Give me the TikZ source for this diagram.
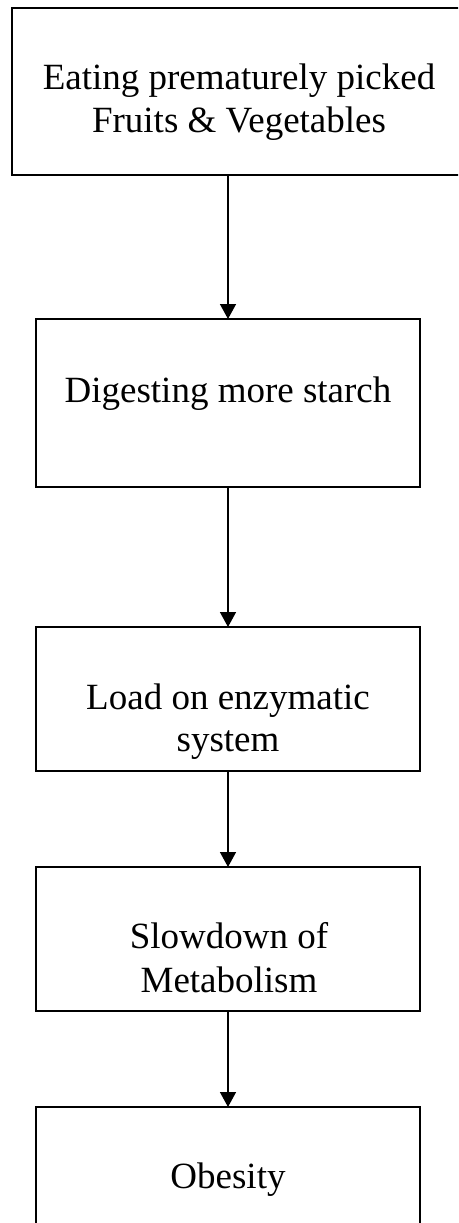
\documentclass[tikz,border=0pt]{standalone}
\usepackage{fontspec}
\setmainfont{Liberation Serif}
\usetikzlibrary{arrows.meta}
\tikzset{
  flowbox/.style={draw, line width=2pt, rectangle, inner sep=0pt, outer sep=0pt},
  flowtext/.style={anchor=base, inner sep=0pt, font=\fontsize{37}{43}\selectfont},
  flowarrow/.style={line width=1.5pt, -{Triangle[width=16pt,length=15pt]}}
}
\begin{document}
\begin{tikzpicture}[x=1pt, y=-1pt]
  \useasboundingbox (0,0) rectangle (458,1223);
  \clip (0,0) rectangle (458,1223);

  % boxes
  \node[flowbox, minimum width=454pt, minimum height=167pt] (b1) at (239,91.5) {};
  \node[flowbox, minimum width=384pt, minimum height=168pt] (b2) at (228,403) {};
  \node[flowbox, minimum width=384pt, minimum height=144pt] (b3) at (228,699) {};
  \node[flowbox, minimum width=384pt, minimum height=144pt] (b4) at (228,939) {};
  \node[flowbox, minimum width=384pt, minimum height=144pt] (b5) at (228,1179) {};

  % labels
  \node[flowtext] (t1a) at (239,89) {Eating prematurely picked};
  \node[flowtext] (t1b) at (239,132) {Fruits \& Vegetables};
  \node[flowtext] (t2) at (228,402) {Digesting more starch};
  \node[flowtext] (t3a) at (228,709) {Load on enzymatic};
  \node[flowtext] (t3b) at (228,751) {system};
  \node[flowtext] (t4a) at (229,948) {Slowdown of};
  \node[flowtext] (t4b) at (229,992) {Metabolism};
  \node[flowtext] (t5) at (228,1188) {Obesity};

  % connectors
  \draw[flowarrow] (b2.north |- b1.south) -- (b2.north);
  \draw[flowarrow] (b2.south) -- (b3.north);
  \draw[flowarrow] (b3.south) -- (b4.north);
  \draw[flowarrow] (b4.south) -- (b5.north);
\end{tikzpicture}
\end{document}
